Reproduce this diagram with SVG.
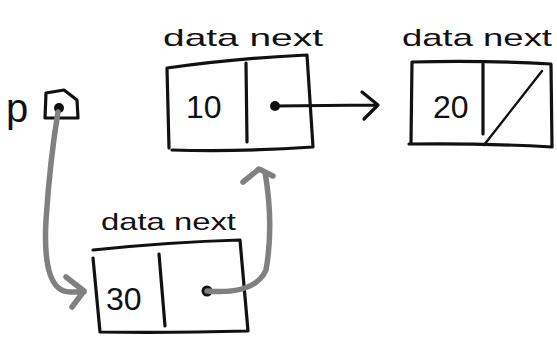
<svg xmlns="http://www.w3.org/2000/svg" width="557" height="341" viewBox="0 0 557 341">
<style>
.ink{fill:none;stroke:#111;stroke-width:3.2;stroke-linecap:round;stroke-linejoin:round}
.thin{fill:none;stroke:#111;stroke-width:2.4;stroke-linecap:round}
.lbl{font-family:"Liberation Sans",Arial,sans-serif;font-size:24px;fill:#111}
.val{font-family:"Liberation Sans",Arial,sans-serif;font-size:32px;fill:#111}
.gray{fill:none;stroke:#808080;stroke-width:5.5;stroke-linecap:round;stroke-linejoin:round}
.dot{fill:#111}
</style>
<rect width="557" height="341" fill="#fff"/>
<g id="p">
<text class="val" x="6" y="122" style="font-size:40px">p</text>
<path class="ink" d="M46,93 L64,90 L77,100 L78,118 L45,118 Z"/>
<circle class="dot" cx="59" cy="108" r="5"/>
</g>
<g id="node10">
<text class="lbl" x="163" y="46" textLength="160" lengthAdjust="spacingAndGlyphs">data  next</text>
<path class="ink" d="M167,68 Q240,58 307,55 L313,147 Q240,152 172,150 M167,68 L169,148"/>
<path class="ink" d="M246,63 L247,142"/>
<text class="val" x="186" y="118">10</text>
</g>
<g id="node20">
<text class="lbl" x="402" y="46" textLength="150" lengthAdjust="spacingAndGlyphs">data next</text>
<path class="ink" d="M412,62 Q480,60 551,64 L552,147 Q480,143 409,144 M412,62 L411,143"/>
<path class="ink" d="M483,64 L483,134"/>
<path class="thin" d="M484,145 L542,71"/>
<text class="val" x="433" y="118">20</text>
</g>
<g id="node30">
<text class="lbl" x="101" y="230" textLength="135" lengthAdjust="spacingAndGlyphs">data next</text>
<path class="ink" d="M93,250 Q170,242 240,240 L248,331 Q170,333 100,332 M93,258 L100,332"/>
<path class="ink" d="M159,254 L165,326"/>
<text class="val" x="106" y="310">30</text>
</g>
<g id="connectors">
<circle class="dot" cx="275" cy="106" r="5"/>
<path class="ink" d="M275,106 L375,105 M362,92 L378,105 L364,119"/>
<path class="gray" d="M58,112 Q50,160 46,220 Q42,292 70,292 L84,292 M66,277 L84,291 L72,307"/>
<circle class="dot" cx="207" cy="291" r="5.5"/>
<path class="gray" d="M207,291 Q255,295 266,270 Q274,225 265,172 M243,182 L259,169 L273,176"/>
</g>
</svg>
